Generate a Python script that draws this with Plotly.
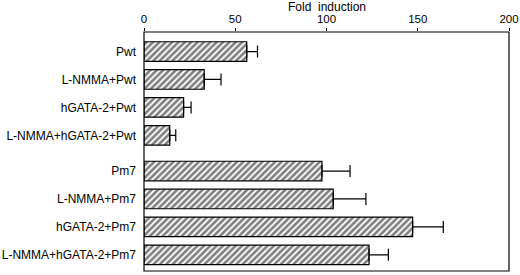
import plotly.graph_objects as go

categories = ["Pwt", "L-NMMA+Pwt", "hGATA-2+Pwt", "L-NMMA+hGATA-2+Pwt",
              "Pm7", "L-NMMA+Pm7", "hGATA-2+Pm7", "L-NMMA+hGATA-2+Pm7"]
groups = [0, 0, 0, 0, 1, 1, 1, 1]
fold = [56.3, 33.0, 21.7, 14.1, 97.5, 103.7, 147.2, 123.3]
err_plus = [5.9, 9.2, 4.1, 3.3, 15.4, 17.9, 16.8, 10.6]
x_ticks = [0, 50, 100, 150, 200]

group_gap = 0.28
ypos = [i + g * group_gap for i, g in enumerate(groups)]

fig = go.Figure()
fig.add_trace(go.Bar(
    x=fold, y=ypos, orientation="h", width=0.7,
    marker=dict(color="white", line=dict(color="black", width=1.2),
                pattern=dict(shape="/", fgcolor="black", bgcolor="white",
                             size=4.5, solidity=0.6)),
    error_x=dict(type="data", array=err_plus, arrayminus=[0] * len(fold),
                 symmetric=False, color="black", thickness=1.2, width=6),
    showlegend=False,
))

fig.update_layout(
    width=520, height=275,
    margin=dict(l=144, r=11, t=32, b=4, autoexpand=False),
    paper_bgcolor="white", plot_bgcolor="white",
    font=dict(family="Liberation Sans, Arial, sans-serif", size=12, color="black"),
    xaxis=dict(range=[0, 200], side="top", tickvals=x_ticks,
               ticktext=[str(v) for v in x_ticks], automargin=False,
               showgrid=False, zeroline=False, showline=False,
               ticks="outside", ticklen=3, tickwidth=1,
               tickcolor="black", tickfont=dict(size=11.5)),
    yaxis=dict(range=[7.86, -0.70], tickvals=ypos, ticktext=categories,
               automargin=False,
               showgrid=False, zeroline=False, showline=False,
               ticks="", ticklabelstandoff=7,
               tickfont=dict(size=12)),
    shapes=[dict(type="rect", xref="paper", yref="paper", x0=0, x1=1, y0=0, y1=1,
                 line=dict(color="black", width=1.2), fillcolor="rgba(0,0,0,0)",
                 layer="above")],
    annotations=[dict(text="Fold  induction", x=0.5, y=1.105, xref="paper",
                      yref="paper", showarrow=False, font=dict(size=12),
                      xanchor="center", yanchor="middle")],
)

fig.write_html("out.html", config={"displayModeBar": False},
               post_script="document.body.style.margin='0';")
